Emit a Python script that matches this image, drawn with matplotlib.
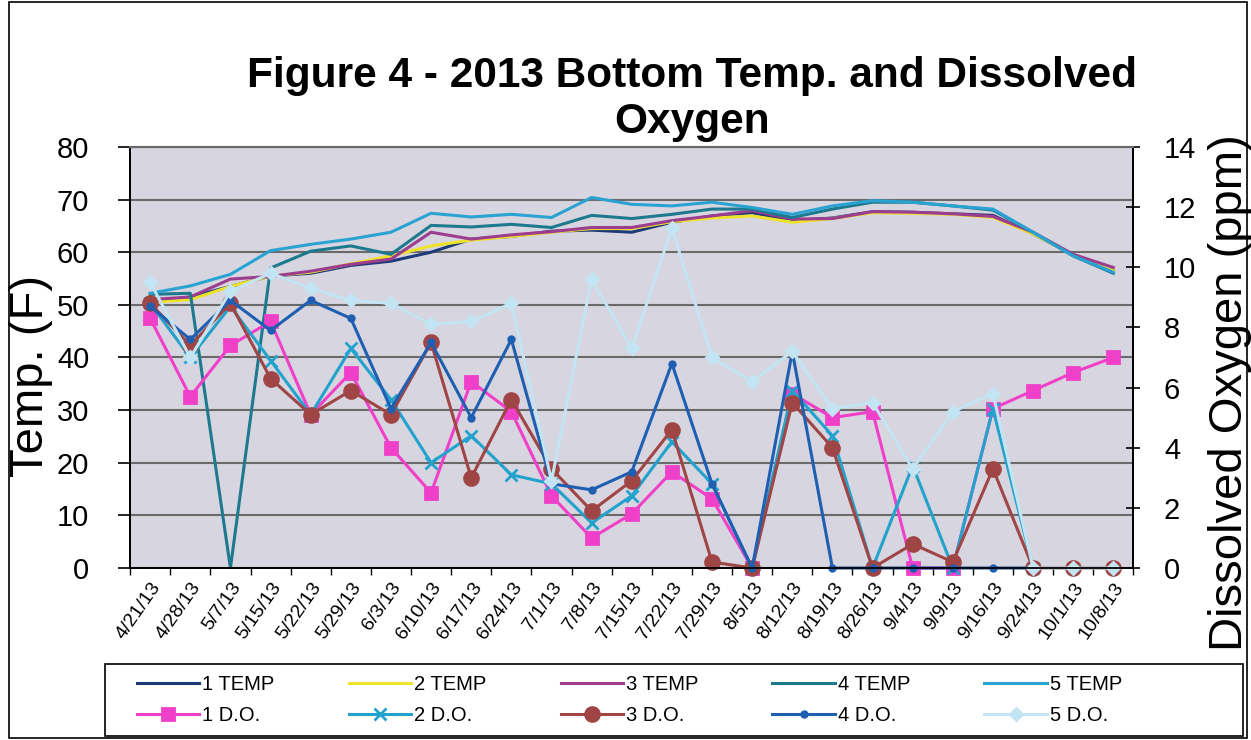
import numpy as np
import matplotlib.pyplot as plt
from matplotlib.patches import Rectangle

plt.rcParams['font.family'] = ['Liberation Sans', 'DejaVu Sans']

dates = ['4/21/13', '4/28/13', '5/7/13', '5/15/13', '5/22/13', '5/29/13', '6/3/13',
         '6/10/13', '6/17/13', '6/24/13', '7/1/13', '7/8/13', '7/15/13', '7/22/13',
         '7/29/13', '8/5/13', '8/12/13', '8/19/13', '8/26/13', '9/4/13', '9/9/13',
         '9/16/13', '9/24/13', '10/1/13', '10/8/13']

# bottom temperature (F), left axis
temp_1 = [50.5, 51.5, 53.5, 55.5, 56.0, 57.5, 58.3, 60.0, 62.5, 63.0, 64.0, 64.2, 63.8,
          65.7, 66.9, 67.5, 66.0, 66.5, 67.7, 67.6, 67.3, 67.0, 63.5, 59.5, 56.5]
temp_2 = [50.5, 51.0, 53.5, 55.5, 56.2, 57.8, 59.3, 61.2, 62.3, 63.0, 63.8, 64.5, 64.5,
          65.8, 66.5, 66.9, 65.7, 66.4, 67.5, 67.4, 67.2, 66.6, 63.5, 59.5, 56.5]
temp_3 = [51.0, 51.5, 54.9, 55.4, 56.4, 57.7, 58.7, 63.8, 62.5, 63.3, 63.9, 64.7, 64.7,
          66.0, 66.9, 67.9, 66.3, 66.4, 67.7, 67.6, 67.3, 66.8, 63.8, 59.6, 57.1]
temp_4 = [52.0, 52.2, 0.0, 57.0, 60.2, 61.2, 59.6, 65.1, 64.8, 65.3, 64.7, 67.0, 66.4,
          67.2, 68.2, 68.2, 66.6, 68.2, 69.5, 69.5, 68.8, 68.0, 63.8, 59.3, 56.0]
temp_5 = [52.2, 53.6, 55.8, 60.3, 61.5, 62.5, 63.8, 67.4, 66.7, 67.2, 66.6, 70.4, 69.1,
          68.8, 69.5, 68.5, 67.2, 68.8, 69.8, 69.5, 68.8, 68.2, 63.8, 59.3, 56.2]

# dissolved oxygen (ppm), right axis
do_1 = [8.3, 5.7, 7.4, 8.2, 5.1, 6.5, 4.0, 2.5, 6.2, 5.2, 2.4, 1.0, 1.8,
        3.2, 2.3, 0.0, 5.8, 5.0, 5.2, 0.0, 0.0, 5.3, 5.9, 6.5, 7.0]
do_2 = [8.8, 7.0, 8.7, 6.9, 5.1, 7.3, 5.6, 3.5, 4.4, 3.1, 2.8, 1.5, 2.4,
        4.2, 2.8, 0.0, 5.9, 4.4, 0.0, 3.4, 0.0, 5.3, 0.0, np.nan, np.nan]
do_3 = [8.8, 7.4, 8.8, 6.3, 5.1, 5.9, 5.1, 7.5, 3.0, 5.6, 3.3, 1.9, 2.9,
        4.6, 0.2, 0.0, 5.5, 4.0, 0.0, 0.8, 0.2, 3.3, 0.0, 0.0, 0.0]
do_4 = [8.7, 7.6, 8.9, 7.9, 8.9, 8.3, 5.3, 7.5, 5.0, 7.6, 2.8, 2.6, 3.2,
        6.8, 2.8, 0.0, 7.2, 0.0, 0.0, 0.0, 0.0, 0.0, 0.0, np.nan, np.nan]
do_5 = [9.5, 7.0, 9.2, 9.8, 9.3, 8.9, 8.8, 8.1, 8.2, 8.8, 2.9, 9.6, 7.3,
        11.3, 7.0, 6.2, 7.2, 5.3, 5.5, 3.3, 5.2, 5.8, 0.0, 0.0, 0.0]

fig = plt.figure(figsize=(12.51, 7.40), dpi=100)
ax = fig.add_axes([0.104, 0.2324, 0.802, 0.569])
ax.set_facecolor('#d7d5df')
ax2 = ax.twinx()

x = np.arange(len(dates))

temp_lines = []
for vals, col, lab in [(temp_1, '#1f3a78', '1 TEMP'), (temp_2, '#efe32a', '2 TEMP'),
                       (temp_3, '#9c3d90', '3 TEMP'), (temp_4, '#1d7a8e', '4 TEMP'),
                       (temp_5, '#2aa3d3', '5 TEMP')]:
    l, = ax.plot(x, vals, color=col, lw=2.2, label=lab, solid_joinstyle='round')
    temp_lines.append(l)

# drawn in series order, like the spreadsheet does
do_lines = []
do_style = [(do_1, '#f03fc8', 's', 9, '1 D.O.'),
            (do_2, '#22a2cc', 'x', 9, '2 D.O.'),
            (do_3, '#a04545', 'o', 10, '3 D.O.'),
            (do_4, '#1f5fb2', 'o', 4, '4 D.O.'),
            (do_5, '#c3e4f2', 'D', 6, '5 D.O.')]
for vals, col, mk, ms, lab in do_style:
    l, = ax2.plot(x, vals, color=col, lw=2.2, marker=mk, ms=ms, mew=2,
                  label=lab, solid_joinstyle='round', clip_on=False)
    do_lines.append(l)

ax.set_xlim(-0.5, len(dates) - 0.5)
ax.set_ylim(0, 80)
ax2.set_ylim(0, 14)
ax.set_yticks(range(0, 81, 10))
ax2.set_yticks(range(0, 15, 2))
ax.yaxis.grid(True, color='#6a6a6a', lw=1.5)
ax.set_axisbelow(True)

ax.set_xticks(x)
ax.set_xticklabels(dates, rotation=55, ha='right', rotation_mode='anchor', fontsize=14)
ax.set_xticks(np.arange(-0.5, len(dates), 1), minor=True)
ax.tick_params(axis='x', which='major', length=0, pad=8)
ax.tick_params(axis='x', which='minor', length=5, width=1)
ax.tick_params(axis='y', labelsize=21, length=8.5, width=1.2, pad=21)
ax2.tick_params(axis='y', labelsize=21, length=10, width=1.2, direction='inout', pad=17)

for a in (ax, ax2):
    a.spines['top'].set_color('#6a6a6a')
    a.spines['top'].set_linewidth(1.5)
    for s in ('left', 'right', 'bottom'):
        a.spines[s].set_linewidth(1.3)

fig.text(0.553, 0.925, 'Figure 4 - 2013 Bottom Temp. and Dissolved\nOxygen',
         ha='center', va='top', fontsize=30.5, fontweight='bold', linespacing=1.22)
fig.text(31 / 1251, 1 - 376 / 740, 'Temp. (F)', rotation=90, ha='center', va='center',
         fontsize=34)
fig.text(1230 / 1251, 1 - 393 / 740, 'Dissolved Oxygen (ppm)', rotation=90,
         ha='center', va='center', fontsize=34)

handles = []
for t, d in zip(temp_lines, do_lines):
    handles += [t, d]
leg = fig.legend(handles, [h.get_label() for h in handles], ncol=5, loc='center',
                 bbox_to_anchor=(137 / 1251, 4 / 740, 985 / 1251, 72 / 740),
                 mode='expand', frameon=False, fontsize=14.5, handlelength=3.1,
                 handletextpad=0.15, borderaxespad=0, borderpad=0, labelspacing=0.6)

fig.patches.append(Rectangle((105 / 1251, 4 / 740), 1138 / 1251, 72 / 740,
                             transform=fig.transFigure, fill=False,
                             edgecolor='black', lw=1.2))
fig.patches.append(Rectangle((0.007, 0.003), 0.99, 0.994, transform=fig.transFigure,
                             fill=False, edgecolor='black', lw=1.2))

fig.savefig('out.png', dpi=100)
